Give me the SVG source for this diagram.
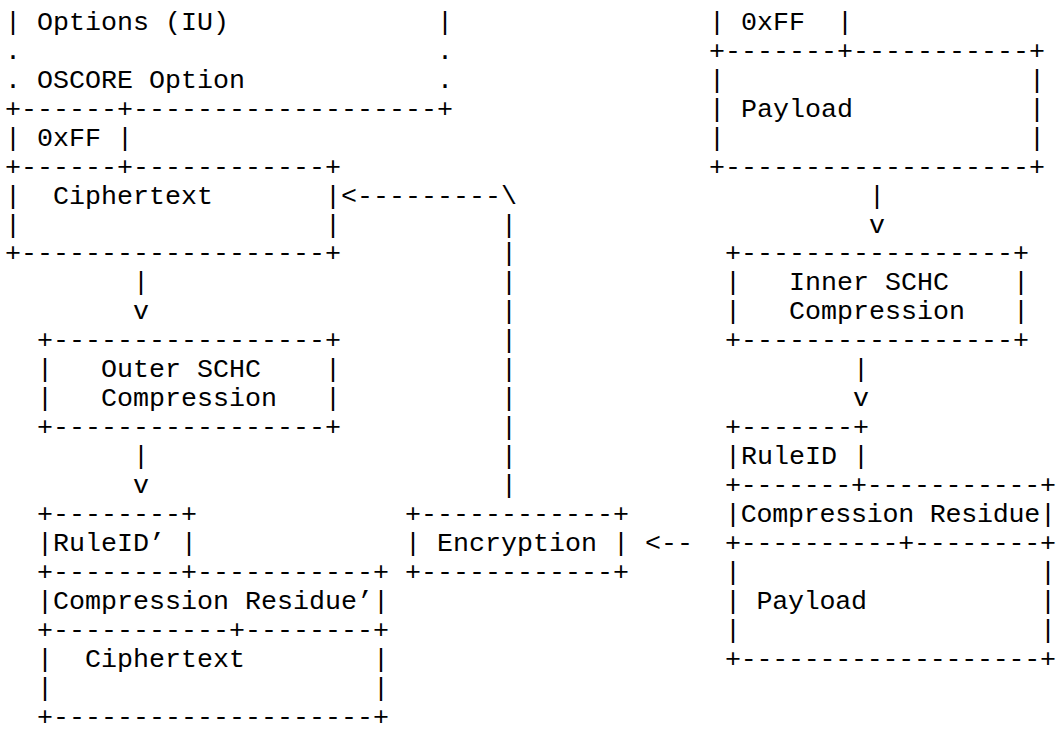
<svg xmlns="http://www.w3.org/2000/svg" width="1056" height="733" viewBox="0 0 1056 733" xml:space="preserve">
<style>
text{font-family:"Liberation Mono","Courier New",monospace;font-size:26.667px;fill:#000;white-space:pre}
</style>
<rect width="1056" height="733" fill="#fff"/>
<g id="protected-message">
<text x="5" y="29.8">| Options (IU)             |</text>
<text x="5" y="58.76">.                          .</text>
<text x="5" y="87.72">. OSCORE Option            .</text>
<text x="5" y="116.68">+------+-------------------+</text>
<text x="5" y="145.64">| 0xFF |</text>
<text x="5" y="174.6">+------+------------+</text>
<text x="5" y="203.56">|  Ciphertext       |</text>
<text x="5" y="232.52">|                   |</text>
<text x="5" y="261.48">+-------------------+</text>
</g>
<g id="inner-payload">
<text x="709" y="29.8">| 0xFF  |</text>
<text x="709" y="58.76">+-------+-----------+</text>
<text x="709" y="87.72">|                   |</text>
<text x="709" y="116.68">| Payload           |</text>
<text x="709" y="145.64">|                   |</text>
<text x="709" y="174.6">+-------------------+</text>
</g>
<g id="inner-schc">
<text x="725" y="261.48">+-----------------+</text>
<text x="725" y="290.44">|   Inner SCHC    |</text>
<text x="725" y="319.4">|   Compression   |</text>
<text x="725" y="348.36">+-----------------+</text>
</g>
<g id="outer-schc">
<text x="37" y="348.36">+-----------------+</text>
<text x="37" y="377.32">|   Outer SCHC    |</text>
<text x="37" y="406.28">|   Compression   |</text>
<text x="37" y="435.24">+-----------------+</text>
</g>
<g id="inner-compressed">
<text x="725" y="435.24">+-------+</text>
<text x="725" y="464.2">|RuleID |</text>
<text x="725" y="493.16" textLength="331" lengthAdjust="spacing">+-------+-----------+</text>
<text x="725" y="522.12" textLength="331" lengthAdjust="spacing">|Compression Residue|</text>
<text x="725" y="551.08" textLength="331" lengthAdjust="spacing">+----------+--------+</text>
<text x="725" y="580.04" textLength="331" lengthAdjust="spacing">|                   |</text>
<text x="725" y="609.0" textLength="331" lengthAdjust="spacing">| Payload           |</text>
<text x="725" y="637.96" textLength="331" lengthAdjust="spacing">|                   |</text>
<text x="725" y="666.92" textLength="331" lengthAdjust="spacing">+-------------------+</text>
</g>
<g id="encryption">
<text x="405" y="522.12">+------------+</text>
<text x="405" y="551.08">| Encryption |</text>
<text x="405" y="580.04">+------------+</text>
</g>
<g id="outer-compressed">
<text x="37" y="522.12">+--------+</text>
<text x="37" y="551.08">|RuleID’ |</text>
<text x="37" y="580.04">+--------+-----------+</text>
<text x="37" y="609.0">|Compression Residue’|</text>
<text x="37" y="637.96">+-----------+--------+</text>
<text x="37" y="666.92">|  Ciphertext        |</text>
<text x="37" y="695.88">|                    |</text>
<text x="37" y="724.84">+--------------------+</text>
</g>
<g id="connectors">
<text x="341" y="203.56">&lt;---------\</text>
<text x="501" y="232.52">|</text>
<text x="501" y="261.48">|</text>
<text x="501" y="290.44">|</text>
<text x="501" y="319.4">|</text>
<text x="501" y="348.36">|</text>
<text x="501" y="377.32">|</text>
<text x="501" y="406.28">|</text>
<text x="501" y="435.24">|</text>
<text x="501" y="464.2">|</text>
<text x="501" y="493.16">|</text>
<text x="133" y="290.44">|</text>
<text x="133" y="319.4">v</text>
<text x="133" y="464.2">|</text>
<text x="133" y="493.16">v</text>
<text x="869" y="203.56">|</text>
<text x="869" y="232.52">v</text>
<text x="853" y="377.32">|</text>
<text x="853" y="406.28">v</text>
<text x="645" y="551.08">&lt;--</text>
</g>
</svg>
